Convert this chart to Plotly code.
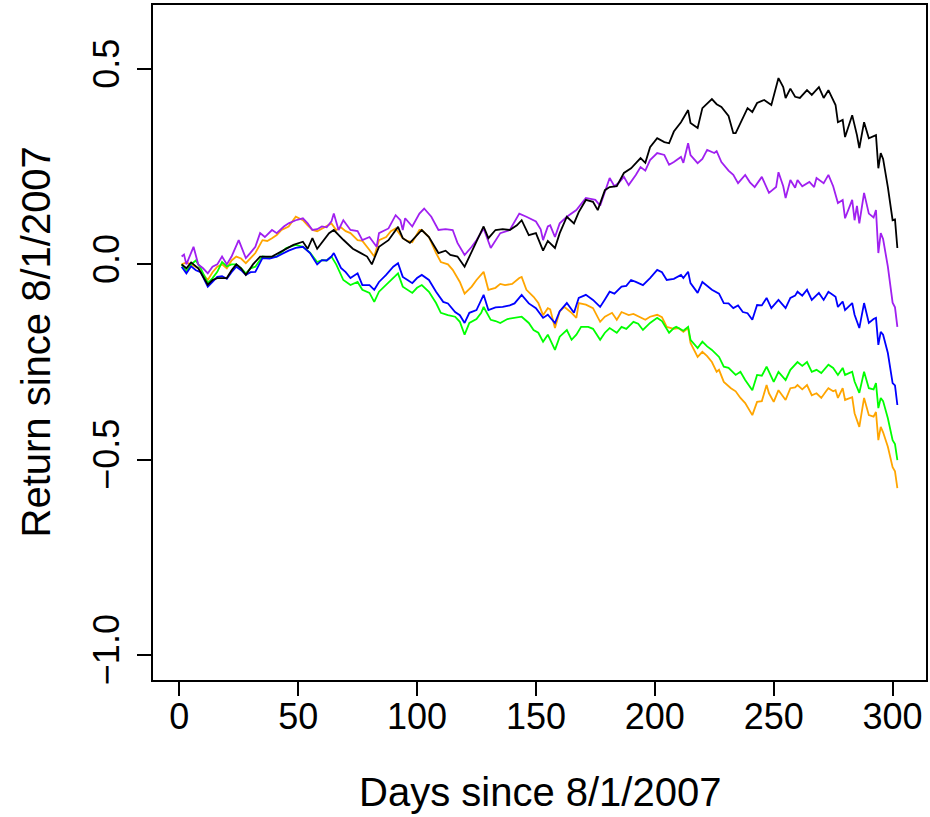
import plotly.graph_objects as go

# ---- data (day, return) ----
days_black = [1, 3, 5, 8, 12, 14, 16, 20, 22, 24, 26, 28, 31, 34, 39, 42, 45, 48, 52, 54, 56, 58, 63, 65, 69, 73, 76, 79, 81, 84, 88, 92, 94, 97, 102, 105, 109, 112, 114, 117, 120, 122, 125, 128, 130, 133, 136, 139, 142, 144, 147, 150, 153, 155, 158, 160, 163, 166, 168, 171, 174, 176, 179, 181, 184, 187, 190, 192, 194, 196, 198, 201, 204, 206, 208, 211, 214, 215, 218, 220, 224, 226, 228, 231, 233, 234, 236, 239, 241, 243, 246, 249, 252, 254, 255, 257, 259, 261, 264, 266, 269, 271, 273, 276, 277, 279, 280, 283, 285, 286, 288, 290, 293, 294, 295, 296, 298, 300, 301, 302]
ret_black = [0.0, -0.01, 0.005, -0.01, -0.052, -0.04, -0.035, -0.035, -0.015, 0.0, -0.01, -0.027, 0.0, 0.02, 0.02, 0.03, 0.04, 0.05, 0.058, 0.04, 0.067, 0.04, 0.08, 0.088, 0.063, 0.04, 0.03, 0.02, 0.0, 0.045, 0.062, 0.096, 0.067, 0.055, 0.088, 0.07, 0.029, 0.035, 0.024, 0.02, -0.006, 0.02, 0.06, 0.097, 0.067, 0.088, 0.09, 0.088, 0.1, 0.113, 0.075, 0.08, 0.035, 0.06, 0.042, 0.08, 0.122, 0.105, 0.134, 0.165, 0.16, 0.139, 0.19, 0.198, 0.2, 0.234, 0.246, 0.259, 0.272, 0.26, 0.3, 0.323, 0.313, 0.31, 0.34, 0.364, 0.395, 0.362, 0.349, 0.40, 0.423, 0.41, 0.403, 0.38, 0.336, 0.336, 0.362, 0.40, 0.39, 0.413, 0.421, 0.408, 0.477, 0.454, 0.426, 0.45, 0.429, 0.426, 0.446, 0.434, 0.454, 0.426, 0.446, 0.408, 0.364, 0.37, 0.326, 0.382, 0.331, 0.298, 0.364, 0.323, 0.331, 0.246, 0.285, 0.27, 0.198, 0.113, 0.115, 0.042]

days_purple = [1, 2, 3, 6, 8, 10, 12, 14, 16, 18, 20, 22, 25, 28, 30, 32, 34, 36, 39, 41, 44, 46, 49, 52, 54, 56, 58, 60, 62, 64, 65, 67, 69, 72, 75, 77, 80, 83, 84, 86, 88, 91, 93, 94, 95, 98, 101, 103, 106, 109, 112, 115, 117, 120, 123, 125, 128, 131, 133, 135, 139, 141, 143, 146, 150, 152, 153, 155, 156, 158, 160, 163, 167, 171, 175, 177, 181, 183, 185, 187, 189, 192, 194, 196, 198, 201, 204, 206, 208, 211, 212, 214, 215, 218, 220, 222, 225, 226, 228, 231, 233, 235, 238, 240, 242, 245, 248, 251, 252, 254, 255, 257, 259, 260, 262, 265, 267, 268, 271, 273, 275, 277, 279, 280, 283, 284, 285, 286, 288, 290, 292, 293, 294, 295, 296, 298, 300, 301, 302]
ret_purple = [0.02, 0.025, 0.0, 0.045, 0.0, -0.01, -0.023, -0.006, 0.0, 0.02, 0.0, 0.02, 0.062, 0.016, 0.03, 0.045, 0.08, 0.07, 0.088, 0.08, 0.097, 0.105, 0.113, 0.118, 0.105, 0.088, 0.09, 0.097, 0.095, 0.11, 0.13, 0.088, 0.113, 0.088, 0.085, 0.062, 0.07, 0.045, 0.08, 0.085, 0.092, 0.126, 0.113, 0.088, 0.118, 0.097, 0.13, 0.143, 0.122, 0.088, 0.09, 0.088, 0.055, 0.024, 0.045, 0.062, 0.092, 0.042, 0.06, 0.08, 0.088, 0.11, 0.13, 0.122, 0.11, 0.09, 0.062, 0.097, 0.1, 0.07, 0.105, 0.122, 0.139, 0.17, 0.165, 0.15, 0.221, 0.2, 0.21, 0.224, 0.203, 0.229, 0.249, 0.24, 0.267, 0.285, 0.28, 0.255, 0.262, 0.275, 0.26, 0.31, 0.28, 0.259, 0.27, 0.293, 0.285, 0.29, 0.262, 0.24, 0.229, 0.208, 0.229, 0.21, 0.198, 0.224, 0.183, 0.198, 0.236, 0.2, 0.17, 0.216, 0.196, 0.216, 0.2, 0.211, 0.198, 0.221, 0.208, 0.229, 0.2, 0.157, 0.165, 0.118, 0.165, 0.113, 0.15, 0.105, 0.183, 0.13, 0.12, 0.139, 0.029, 0.08, 0.065, -0.006, -0.098, -0.11, -0.16]

days_orange = [1, 3, 5, 8, 12, 14, 16, 18, 20, 22, 24, 26, 28, 30, 32, 35, 37, 39, 41, 43, 46, 49, 52, 54, 56, 58, 60, 62, 64, 66, 68, 70, 72, 75, 77, 80, 82, 84, 87, 89, 91, 94, 96, 98, 101, 102, 105, 108, 110, 113, 115, 118, 120, 123, 125, 128, 130, 133, 135, 137, 140, 143, 144, 146, 149, 151, 153, 155, 156, 158, 160, 162, 165, 167, 168, 171, 174, 177, 179, 182, 184, 186, 189, 191, 194, 196, 198, 201, 203, 205, 208, 210, 212, 214, 215, 218, 220, 222, 224, 226, 227, 229, 232, 234, 236, 238, 241, 243, 245, 247, 248, 250, 252, 255, 257, 259, 260, 262, 264, 266, 268, 270, 272, 273, 275, 276, 277, 279, 280, 283, 284, 286, 288, 290, 292, 293, 294, 295, 296, 298, 300, 301, 302]
ret_orange = [0.0, 0.005, 0.0, -0.01, -0.04, -0.02, -0.006, 0.0, -0.01, 0.01, 0.02, 0.015, 0.003, 0.015, 0.029, 0.062, 0.06, 0.067, 0.075, 0.088, 0.097, 0.122, 0.113, 0.1, 0.088, 0.085, 0.092, 0.1, 0.105, 0.088, 0.095, 0.085, 0.08, 0.062, 0.06, 0.037, 0.02, 0.062, 0.07, 0.085, 0.092, 0.067, 0.06, 0.057, 0.088, 0.088, 0.07, 0.029, 0.006, 0.0, -0.014, -0.045, -0.075, -0.057, -0.04, -0.019, -0.065, -0.06, -0.05, -0.053, -0.05, -0.035, -0.032, -0.065, -0.083, -0.099, -0.13, -0.112, -0.115, -0.163, -0.12, -0.109, -0.124, -0.137, -0.099, -0.103, -0.112, -0.147, -0.134, -0.124, -0.142, -0.122, -0.13, -0.127, -0.137, -0.142, -0.134, -0.129, -0.135, -0.16, -0.165, -0.163, -0.173, -0.163, -0.201, -0.237, -0.224, -0.235, -0.25, -0.275, -0.27, -0.301, -0.317, -0.325, -0.342, -0.355, -0.386, -0.352, -0.35, -0.309, -0.33, -0.352, -0.322, -0.347, -0.317, -0.315, -0.309, -0.32, -0.309, -0.335, -0.33, -0.342, -0.325, -0.317, -0.325, -0.322, -0.342, -0.317, -0.347, -0.34, -0.381, -0.416, -0.342, -0.386, -0.39, -0.378, -0.45, -0.416, -0.43, -0.467, -0.519, -0.53, -0.573]

days_blue = [1, 3, 5, 7, 9, 12, 14, 16, 18, 20, 22, 24, 26, 28, 30, 32, 35, 38, 41, 44, 46, 49, 52, 55, 58, 60, 62, 64, 65, 68, 70, 72, 75, 77, 80, 82, 84, 87, 90, 92, 94, 96, 98, 100, 102, 105, 108, 111, 113, 116, 118, 120, 122, 125, 128, 130, 133, 136, 139, 141, 144, 147, 150, 153, 155, 158, 160, 163, 166, 168, 171, 174, 177, 179, 181, 183, 186, 188, 190, 192, 195, 198, 201, 203, 205, 208, 211, 212, 214, 215, 218, 220, 222, 224, 227, 229, 231, 233, 235, 237, 239, 241, 243, 245, 247, 249, 252, 255, 257, 259, 260, 262, 264, 266, 269, 271, 273, 276, 277, 279, 280, 283, 284, 286, 288, 290, 292, 293, 294, 295, 296, 298, 300, 301, 302]
ret_blue = [-0.006, -0.023, -0.005, -0.015, -0.02, -0.057, -0.045, -0.032, -0.03, -0.037, -0.02, -0.006, -0.015, -0.027, -0.02, -0.019, 0.016, 0.015, 0.02, 0.03, 0.035, 0.042, 0.045, 0.029, 0.0, 0.011, 0.01, 0.02, 0.029, -0.009, -0.02, -0.035, -0.023, -0.053, -0.053, -0.065, -0.045, -0.027, -0.006, 0.003, -0.032, -0.04, -0.048, -0.035, -0.027, -0.04, -0.07, -0.096, -0.1, -0.122, -0.13, -0.15, -0.124, -0.117, -0.078, -0.117, -0.11, -0.109, -0.105, -0.1, -0.078, -0.1, -0.112, -0.137, -0.129, -0.15, -0.12, -0.099, -0.124, -0.086, -0.078, -0.091, -0.109, -0.09, -0.07, -0.075, -0.057, -0.055, -0.04, -0.045, -0.053, -0.035, -0.014, -0.02, -0.04, -0.037, -0.027, -0.035, -0.019, -0.048, -0.073, -0.045, -0.055, -0.065, -0.075, -0.099, -0.1, -0.112, -0.105, -0.122, -0.125, -0.142, -0.104, -0.105, -0.086, -0.112, -0.091, -0.112, -0.086, -0.08, -0.07, -0.08, -0.065, -0.091, -0.073, -0.091, -0.07, -0.083, -0.109, -0.095, -0.117, -0.099, -0.129, -0.163, -0.099, -0.15, -0.14, -0.137, -0.206, -0.173, -0.18, -0.227, -0.304, -0.31, -0.36]

days_green = [1, 3, 5, 7, 9, 12, 14, 16, 18, 20, 22, 24, 26, 28, 30, 32, 35, 38, 41, 43, 45, 49, 52, 55, 58, 60, 62, 64, 66, 69, 72, 75, 77, 80, 82, 84, 87, 90, 92, 94, 96, 98, 100, 102, 105, 108, 110, 113, 116, 118, 120, 122, 125, 127, 128, 131, 133, 135, 138, 141, 144, 147, 149, 151, 153, 155, 158, 160, 163, 165, 167, 169, 172, 174, 177, 179, 181, 184, 186, 188, 191, 193, 195, 198, 201, 203, 206, 208, 209, 212, 214, 215, 218, 220, 222, 224, 227, 229, 231, 234, 236, 238, 241, 243, 245, 247, 250, 252, 255, 257, 259, 260, 262, 264, 266, 268, 270, 272, 273, 275, 277, 279, 280, 283, 284, 286, 288, 290, 292, 293, 294, 295, 296, 298, 300, 301, 302]
ret_green = [0.0, -0.017, 0.0, 0.01, -0.01, -0.048, -0.035, -0.019, 0.006, -0.005, 0.0, 0.0, -0.01, -0.023, -0.01, -0.006, 0.02, 0.018, 0.02, 0.03, 0.042, 0.05, 0.045, 0.03, 0.006, 0.011, 0.01, 0.02, 0.0, -0.04, -0.053, -0.045, -0.065, -0.073, -0.096, -0.07, -0.053, -0.035, -0.023, -0.057, -0.065, -0.073, -0.06, -0.053, -0.07, -0.099, -0.124, -0.13, -0.134, -0.147, -0.18, -0.15, -0.14, -0.124, -0.109, -0.142, -0.145, -0.15, -0.14, -0.137, -0.134, -0.15, -0.168, -0.175, -0.198, -0.18, -0.219, -0.185, -0.168, -0.193, -0.18, -0.16, -0.16, -0.165, -0.193, -0.175, -0.163, -0.175, -0.16, -0.165, -0.147, -0.152, -0.168, -0.15, -0.137, -0.145, -0.175, -0.163, -0.16, -0.17, -0.16, -0.193, -0.214, -0.198, -0.21, -0.219, -0.237, -0.262, -0.265, -0.283, -0.275, -0.296, -0.322, -0.283, -0.285, -0.262, -0.301, -0.275, -0.296, -0.27, -0.255, -0.25, -0.26, -0.25, -0.275, -0.27, -0.278, -0.265, -0.257, -0.265, -0.283, -0.265, -0.283, -0.275, -0.3, -0.329, -0.275, -0.317, -0.32, -0.304, -0.368, -0.342, -0.35, -0.394, -0.45, -0.46, -0.501]

x_ticks = [0, 50, 100, 150, 200, 250, 300]
y_ticks = [-1.0, -0.5, 0.0, 0.5]
y_tick_text = ["\u22121.0", "\u22120.5", "0.0", "0.5"]

series = [
    (days_orange, ret_orange, "orange"),
    (days_green, ret_green, "#00FF00"),
    (days_blue, ret_blue, "#0000FF"),
    (days_purple, ret_purple, "#A020F0"),
    (days_black, ret_black, "black"),
]

fig = go.Figure()
for d, r, c in series:
    fig.add_trace(go.Scatter(x=d, y=r, mode="lines",
                             line=dict(color=c, width=1.8), showlegend=False,
                             hoverinfo="skip"))

FONT = "Liberation Sans, Arial, Helvetica, sans-serif"
fig.update_layout(
    width=930, height=817,
    margin=dict(l=153, r=2, t=5, b=137),
    plot_bgcolor="white", paper_bgcolor="white",
    font=dict(family=FONT, color="black"),
    showlegend=False,
    xaxis=dict(range=[-11.04, 314.04], tickvals=x_ticks, ticks="outside",
               ticklen=14, tickwidth=2, tickcolor="black",
               showline=True, mirror=True, linecolor="black", linewidth=2,
               showgrid=False, zeroline=False,
               tickfont=dict(size=36, family=FONT), ticklabelstandoff=-10),
    yaxis=dict(range=[-1.064, 0.664], tickvals=y_ticks, ticktext=y_tick_text,
               ticks="outside", ticklen=14, tickwidth=2, tickcolor="black",
               showline=True, mirror=True, linecolor="black", linewidth=2,
               showgrid=False, zeroline=False, tickangle=-90,
               tickfont=dict(size=36, family=FONT), ticklabelstandoff=4),
    annotations=[
        dict(text="Days since 8/1/2007", xref="paper", yref="paper",
             x=0.5, y=0, yshift=-112, xanchor="center", yanchor="middle",
             showarrow=False, font=dict(size=40, family=FONT)),
        dict(text="Return since 8/1/2007", xref="paper", yref="paper",
             x=0, y=0.5, xshift=-118, xanchor="center", yanchor="middle",
             textangle=-90, showarrow=False, font=dict(size=40, family=FONT)),
    ],
)
fig.write_html("out.html", config={"displayModeBar": False},
               post_script="document.body.style.margin='0';document.body.style.overflow='hidden';")
